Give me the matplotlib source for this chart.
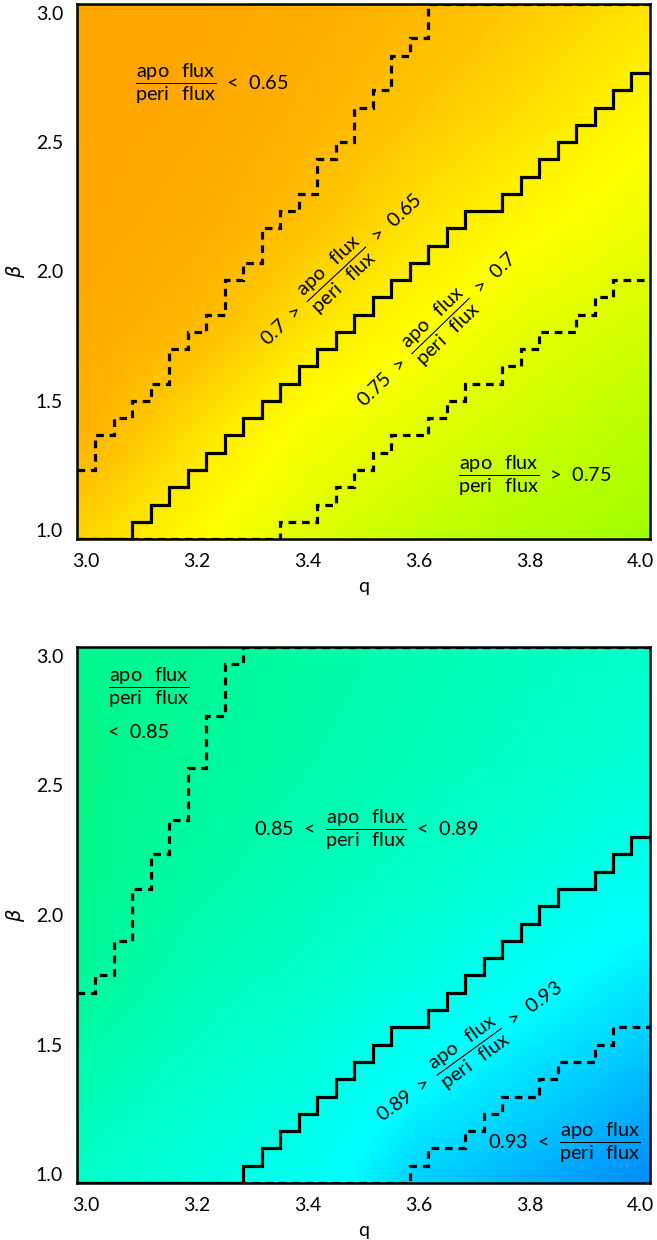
import numpy as np
import matplotlib.pyplot as plt
from matplotlib.colors import LinearSegmentedColormap

plt.rcParams['font.family'] = ['Lato', 'DejaVu Sans']
plt.rcParams['mathtext.fontset'] = 'custom'
plt.rcParams['mathtext.sf'] = 'Lato'
plt.rcParams['mathtext.rm'] = 'Lato'

# model grid: 31 values of q and 31 of beta
q_lo, q_hi, n_q = 3.0, 4.0, 31
b_lo, b_hi, n_b = 1.0, 3.0, 31

# rough read of apo flux / peri flux on a coarse grid (rows = beta, cols = q)
q_nodes = [3.0, 3.2, 3.4, 3.6, 3.8, 4.0]
b_nodes = [1.0, 1.4, 1.8, 2.2, 2.6, 3.0]
ratio_top = [
    [0.675, 0.715, 0.752, 0.775, 0.790, 0.800],
    [0.640, 0.685, 0.725, 0.748, 0.768, 0.785],
    [0.625, 0.648, 0.688, 0.717, 0.745, 0.762],
    [0.615, 0.630, 0.657, 0.689, 0.713, 0.735],
    [0.610, 0.620, 0.640, 0.665, 0.686, 0.712],
    [0.610, 0.615, 0.630, 0.648, 0.668, 0.690],
]
ratio_bot = [
    [0.872, 0.885, 0.897, 0.932, 0.945, 0.958],
    [0.860, 0.874, 0.884, 0.906, 0.925, 0.940],
    [0.848, 0.863, 0.872, 0.884, 0.900, 0.918],
    [0.843, 0.855, 0.864, 0.872, 0.882, 0.894],
    [0.842, 0.849, 0.858, 0.865, 0.872, 0.880],
    [0.844, 0.847, 0.855, 0.862, 0.868, 0.873],
]

# contours: for every q column, number of beta cells (from the bottom) on the high side
top_065 = [4, 6, 7, 8, 9, 11, 12, 13, 15, 16, 18, 19, 20, 22, 23, 25, 26, 28, 29,
           31, 31, 31, 31, 31, 31, 31, 31, 31, 31, 31, 31]
top_070 = [0, 0, 0, 1, 2, 3, 4, 5, 6, 7, 8, 9, 10, 11, 12, 13, 14, 15, 16, 17, 18,
           19, 19, 20, 21, 22, 23, 24, 25, 26, 27]
top_075 = [0, 0, 0, 0, 0, 0, 0, 0, 0, 0, 0, 1, 1, 2, 3, 4, 5, 6, 6, 7, 8, 9, 9, 10,
           11, 12, 12, 13, 14, 15, 15]
bot_085 = [11, 12, 14, 17, 19, 21, 24, 27, 30, 31, 31, 31, 31, 31, 31, 31, 31, 31,
           31, 31, 31, 31, 31, 31, 31, 31, 31, 31, 31, 31, 31]
bot_089 = [0, 0, 0, 0, 0, 0, 0, 0, 0, 1, 2, 3, 4, 5, 6, 7, 8, 9, 9, 10, 11, 12, 13,
           14, 15, 16, 17, 17, 18, 19, 20]
bot_093 = [0, 0, 0, 0, 0, 0, 0, 0, 0, 0, 0, 0, 0, 0, 0, 0, 0, 0, 1, 2, 2, 3, 4, 5,
           5, 6, 7, 7, 8, 9, 9]

# colour table, value -> colour
cmap_vals = [0.60, 0.63, 0.66, 0.70, 0.72, 0.76, 0.80, 0.845, 0.87, 0.89, 0.91, 0.935, 0.96]
cmap_cols = ['#ffa200', '#ffad00', '#ffc400', '#fff000', '#ffff00', '#d7ff00', '#a5ff00',
             '#00f890', '#00ffc3', '#00ffe6', '#00ffff', '#00cdff', '#008cff']
vmin, vmax = cmap_vals[0], cmap_vals[-1]
cmap = LinearSegmentedColormap.from_list(
    'flux', [((v - vmin) / (vmax - vmin), c) for v, c in zip(cmap_vals, cmap_cols)])

dq = (q_hi - q_lo) / (n_q - 1)
db = (b_hi - b_lo) / (n_b - 1)
xlim = (q_lo - dq / 2, q_hi + dq / 2)
ylim = (b_lo - db / 2, b_hi + db / 2)
frac = r'$\dfrac{\mathsf{apo\ \ flux}}{\mathsf{peri\ \ flux}}$'

fig = plt.figure(figsize=(6.57, 12.40), dpi=100)
ax1 = fig.add_axes([0.1172, 0.5653, 0.8721, 0.4315])
ax2 = fig.add_axes([0.1172, 0.0460, 0.8721, 0.4323])


def panel(ax, grid, levels):
    hq = (q_nodes[1] - q_nodes[0]) / 2
    hb = (b_nodes[1] - b_nodes[0]) / 2
    ax.imshow(grid, origin='lower', cmap=cmap, vmin=vmin, vmax=vmax,
              interpolation='bilinear', aspect='auto',
              extent=[q_nodes[0] - hq, q_nodes[-1] + hq, b_nodes[0] - hb, b_nodes[-1] + hb])
    q_edges = q_lo + (np.arange(n_q + 1) - 0.5) * dq
    for counts, ls in levels:
        b_edge = b_lo - db / 2 + np.array(counts) * db
        ax.stairs(b_edge, q_edges, baseline=None, color='k', lw=2.3, ls=ls)
    ax.set_xlim(xlim)
    ax.set_ylim(ylim)
    ax.set_xticks(np.arange(3.0, 4.01, 0.2))
    ax.set_yticks(np.arange(1.0, 3.01, 0.5))
    ax.xaxis.set_major_formatter('{x:.1f}')
    ax.yaxis.set_major_formatter('{x:.1f}')
    ax.tick_params(length=0, labelsize=14, pad=10)
    for s in ax.spines.values():
        s.set_linewidth(1.8)
    ax.set_xlabel('q', fontsize=14, labelpad=6)
    ax.set_ylabel(r'$\beta$', fontsize=14, labelpad=6)


dash = (0, (2.4, 1.8))
panel(ax1, ratio_top, [(top_065, dash), (top_070, '-'), (top_075, dash)])
panel(ax2, ratio_bot, [(bot_085, dash), (bot_089, '-'), (bot_093, dash)])

fs = 14.3
ax1.text(3.088, 2.724, frac + '  <  0.65', fontsize=fs, ha='left', va='center')
ax1.text(3.461, 2.006, '0.7  >  ' + frac + '  >  0.65', fontsize=fs,
         ha='center', va='center', rotation=43, rotation_mode='anchor')
ax1.text(3.634, 1.774, '0.75  >  ' + frac + '  >  0.7', fontsize=fs,
         ha='center', va='center', rotation=44, rotation_mode='anchor')
ax1.text(3.67, 1.21, frac + '  >  0.75', fontsize=fs, ha='left', va='center')

ax2.text(3.039, 2.874, frac, fontsize=fs, ha='left', va='center')
ax2.text(3.039, 2.704, '<  0.85', fontsize=fs, ha='left', va='center')
ax2.text(3.506, 2.329, '0.85  <  ' + frac + '  <  0.89', fontsize=fs, ha='center', va='center')
ax2.text(3.692, 1.472, '0.89  >  ' + frac + '  >  0.93', fontsize=fs,
         ha='center', va='center', rotation=36, rotation_mode='anchor')
ax2.text(4.0, 1.12, '0.93  <  ' + frac, fontsize=fs, ha='right', va='center')

fig.savefig('out.png', dpi=100)
